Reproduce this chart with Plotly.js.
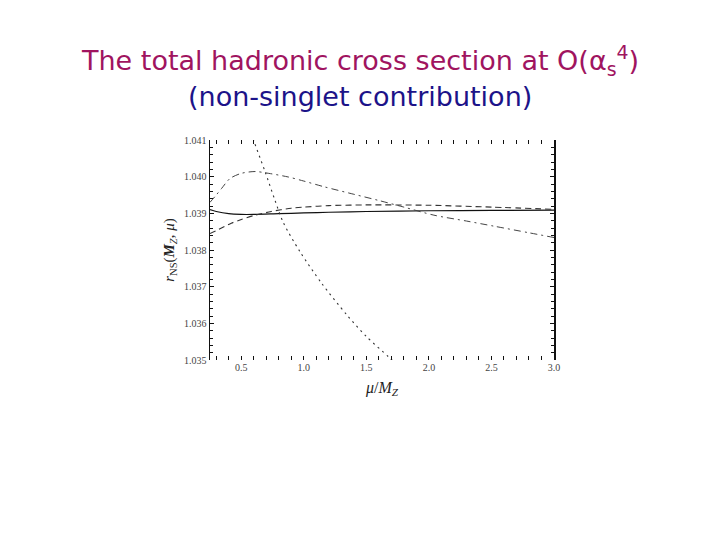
<!DOCTYPE html>
<html>
<head>
<meta charset="utf-8">
<script src="https://cdn.plot.ly/plotly-3.0.1.min.js"></script>
<style>html,body{margin:0;padding:0;background:#fff;}#chart{width:720px;height:540px;}</style>
</head>
<body>
<div id="chart"></div>
<script>
// Data
const xSolid = [0.25, 0.3, 0.4, 0.5, 0.6, 0.8, 1.0, 1.2, 1.5, 2.0, 2.5, 3.0];
const ySolid = [1.03910, 1.03905, 1.03899, 1.03897, 1.03897, 1.03899, 1.03901, 1.03903, 1.03905, 1.03907, 1.03908, 1.03909];

const xDashed = [0.25, 0.3, 0.42, 0.5, 0.6, 0.74, 0.9, 1.0, 1.2, 1.5, 2.0, 2.5, 3.0];
const yDashed = [1.03845, 1.03853, 1.03873, 1.03883, 1.03894, 1.03905, 1.03914, 1.03917, 1.03921, 1.03923, 1.03922, 1.03917, 1.03911];

const xDashDot = [0.25, 0.3, 0.343, 0.41, 0.5, 0.61, 0.72, 0.877, 1.0, 1.156, 1.4, 1.6, 1.8, 2.04, 2.3, 2.52, 2.8, 3.0];
const yDashDot = [1.0393, 1.0395, 1.03968, 1.03995, 1.04009, 1.04014, 1.04009, 1.03999, 1.03988, 1.03973, 1.03952, 1.03935, 1.03917, 1.03895, 1.03879, 1.03865, 1.03847, 1.03834];

const xDotted = [0.55, 0.6, 0.69, 0.77, 0.836, 0.97, 1.143, 1.344, 1.5, 1.676, 1.75];
const yDotted = [1.0415, 1.04098, 1.04014, 1.03935, 1.03875, 1.03795, 1.03709, 1.03623, 1.03564, 1.03509, 1.03485];

const titleLine1 = 'The total hadronic cross section at O(α<sub>s</sub><sup>4</sup>)';
const titleLine2 = '(non-singlet contribution)';
const xTitle = '<i>μ</i>/<i>M</i><sub><i>Z</i></sub>';
const yTitle = '<i>r</i><sub>NS</sub>(<b><i>M</i></b><sub><i>Z</i></sub>, <i>μ</i>)';

const mk = (x, y, dash, color, w) => ({
  x: x, y: y, type: 'scatter', mode: 'lines',
  line: {dash: dash, color: color, width: w, shape: 'spline', smoothing: 0.8},
  hoverinfo: 'skip', showlegend: false
});

const traces = [
  mk(xSolid, ySolid, 'solid', '#111', 1.2),
  mk(xDashed, yDashed, '6px,4px', '#333', 1.1),
  mk(xDashDot, yDashDot, '7px,4px,2px,4px', '#444', 1.0),
  mk(xDotted, yDotted, '2px,4px', '#333', 1.1)
];

const tickFont = {family: 'Liberation Serif, Times New Roman, serif', size: 10, color: '#444'};

const layout = {
  width: 720, height: 540,
  margin: {l: 210, r: 166, t: 140, b: 180},
  paper_bgcolor: '#fff', plot_bgcolor: '#fff',
  xaxis: {
    range: [0.25, 3.0], tick0: 0.5, dtick: 0.5, tickformat: '.1f',
    ticks: 'inside', ticklen: 4, tickwidth: 1, tickcolor: '#111',
    minor: {dtick: 0.1, tick0: 0.5, ticks: 'inside', ticklen: 4, tickwidth: 1, tickcolor: '#111'},
    mirror: 'ticks', showline: false, showgrid: false, zeroline: false,
    tickfont: tickFont,
    title: {text: xTitle, font: {family: 'Liberation Serif, serif', size: 16, color: '#222'}, standoff: 9}
  },
  yaxis: {
    range: [1.035, 1.041], tick0: 1.035, dtick: 0.001, tickformat: '.3f',
    ticks: 'inside', ticklen: 4, tickwidth: 1, tickcolor: '#111',
    minor: {dtick: 0.0002, ticks: 'inside', ticklen: 3, tickwidth: 1, tickcolor: '#111'},
    mirror: 'ticks', showline: true, linecolor: '#111', linewidth: 1.5,
    showgrid: false, zeroline: false,
    tickfont: tickFont,
    title: {text: yTitle, font: {family: 'Liberation Serif, serif', size: 15, color: '#222'}, standoff: 6}
  },
  annotations: [
    {text: titleLine1, xref: 'paper', yref: 'paper', x: 0.5, y: 1, xanchor: 'center', yanchor: 'middle',
     yshift: 140 - 60, showarrow: false,
     font: {family: 'DejaVu Sans, sans-serif', size: 27, color: '#a0145f'}},
    {text: titleLine2, xref: 'paper', yref: 'paper', x: 0.5, y: 1, xanchor: 'center', yanchor: 'middle',
     yshift: 140 - 96, showarrow: false,
     font: {family: 'DejaVu Sans, sans-serif', size: 27, color: '#1c1389'}}
  ]
};
// center annotations on the page rather than the plot area
layout.annotations.forEach(a => { a.x = (360 - 210) / (720 - 210 - 166); });

Plotly.newPlot('chart', traces, layout, {staticPlot: true, displayModeBar: false});
</script>
</body>
</html>
